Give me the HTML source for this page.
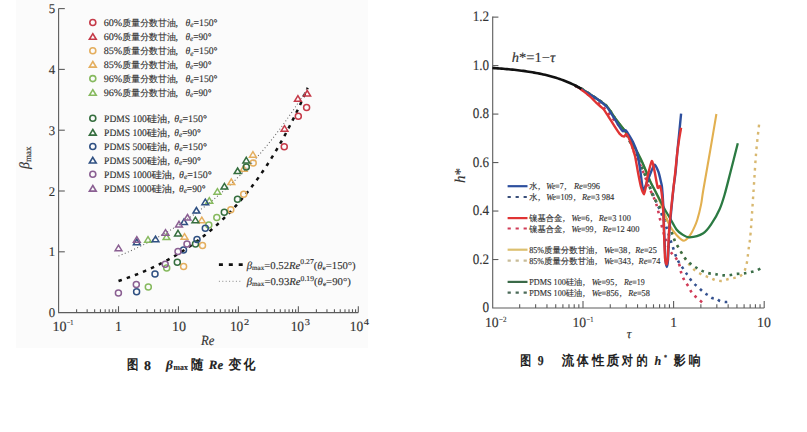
<!DOCTYPE html><html><head><meta charset="utf-8"><style>html,body{margin:0;padding:0;background:#fff;width:807px;height:432px;overflow:hidden}svg{display:block} text{stroke:#333;stroke-width:0.15px}</style></head><body><svg width="807" height="432" viewBox="0 0 807 432" style="text-rendering:geometricPrecision">
<rect x="0" y="0" width="807" height="432" fill="#ffffff"/>
<rect x="16" y="0" width="352" height="348" fill="#fbfbfb"/>
<g stroke="#5c5c5c" stroke-width="1.1" fill="none">
<path d="M58.6 8.5 V312.6 H358.3"/>
<path d="M58.6 251.80 H64.8"/>
<path d="M58.6 191.00 H64.8"/>
<path d="M58.6 130.20 H64.8"/>
<path d="M58.6 69.40 H64.8"/>
<path d="M58.6 8.60 H64.8"/>
<path d="M76.60 312.6 V309.2"/>
<path d="M87.15 312.6 V309.2"/>
<path d="M94.64 312.6 V309.2"/>
<path d="M100.45 312.6 V309.2"/>
<path d="M105.20 312.6 V309.2"/>
<path d="M109.21 312.6 V309.2"/>
<path d="M112.69 312.6 V309.2"/>
<path d="M115.76 312.6 V309.2"/>
<path d="M136.55 312.6 V309.2"/>
<path d="M147.10 312.6 V309.2"/>
<path d="M154.59 312.6 V309.2"/>
<path d="M160.40 312.6 V309.2"/>
<path d="M165.15 312.6 V309.2"/>
<path d="M169.16 312.6 V309.2"/>
<path d="M172.64 312.6 V309.2"/>
<path d="M175.71 312.6 V309.2"/>
<path d="M196.50 312.6 V309.2"/>
<path d="M207.05 312.6 V309.2"/>
<path d="M214.54 312.6 V309.2"/>
<path d="M220.35 312.6 V309.2"/>
<path d="M225.10 312.6 V309.2"/>
<path d="M229.11 312.6 V309.2"/>
<path d="M232.59 312.6 V309.2"/>
<path d="M235.66 312.6 V309.2"/>
<path d="M256.45 312.6 V309.2"/>
<path d="M267.00 312.6 V309.2"/>
<path d="M274.49 312.6 V309.2"/>
<path d="M280.30 312.6 V309.2"/>
<path d="M285.05 312.6 V309.2"/>
<path d="M289.06 312.6 V309.2"/>
<path d="M292.54 312.6 V309.2"/>
<path d="M295.61 312.6 V309.2"/>
<path d="M316.40 312.6 V309.2"/>
<path d="M326.95 312.6 V309.2"/>
<path d="M334.44 312.6 V309.2"/>
<path d="M340.25 312.6 V309.2"/>
<path d="M345.00 312.6 V309.2"/>
<path d="M349.01 312.6 V309.2"/>
<path d="M352.49 312.6 V309.2"/>
<path d="M355.56 312.6 V309.2"/>
<path d="M118.50 312.6 V306.2"/>
<path d="M178.45 312.6 V306.2"/>
<path d="M238.40 312.6 V306.2"/>
<path d="M298.35 312.6 V306.2"/>
<path d="M358.30 312.6 V306.2"/>
</g>
<text x="48.80" y="317.20" font-family="Liberation Serif" font-size="13.3" fill="#333333" textLength="6.40" lengthAdjust="spacingAndGlyphs" >0</text>
<text x="48.80" y="256.40" font-family="Liberation Serif" font-size="13.3" fill="#333333" textLength="6.40" lengthAdjust="spacingAndGlyphs" >1</text>
<text x="48.80" y="195.60" font-family="Liberation Serif" font-size="13.3" fill="#333333" textLength="6.40" lengthAdjust="spacingAndGlyphs" >2</text>
<text x="48.80" y="134.80" font-family="Liberation Serif" font-size="13.3" fill="#333333" textLength="6.40" lengthAdjust="spacingAndGlyphs" >3</text>
<text x="48.80" y="74.00" font-family="Liberation Serif" font-size="13.3" fill="#333333" textLength="6.40" lengthAdjust="spacingAndGlyphs" >4</text>
<text x="48.80" y="13.20" font-family="Liberation Serif" font-size="13.3" fill="#333333" textLength="6.40" lengthAdjust="spacingAndGlyphs" >5</text>
<text x="52.40" y="330.90" font-family="Liberation Serif" font-size="14" fill="#333333" textLength="14.10" lengthAdjust="spacingAndGlyphs" >10</text>
<text x="66.80" y="325.30" font-family="Liberation Serif" font-size="7.5" fill="#333333" textLength="6.70" lengthAdjust="spacingAndGlyphs" >−1</text>
<text x="114.90" y="330.90" font-family="Liberation Serif" font-size="14" fill="#333333" textLength="6.90" lengthAdjust="spacingAndGlyphs" >1</text>
<text x="171.90" y="330.90" font-family="Liberation Serif" font-size="14" fill="#333333" textLength="14.10" lengthAdjust="spacingAndGlyphs" >10</text>
<text x="229.90" y="330.90" font-family="Liberation Serif" font-size="14" fill="#333333" textLength="13.40" lengthAdjust="spacingAndGlyphs" >10</text>
<text x="244.00" y="324.80" font-family="Liberation Serif" font-size="9" fill="#333333" textLength="5.20" lengthAdjust="spacingAndGlyphs" >2</text>
<text x="290.65" y="330.90" font-family="Liberation Serif" font-size="14" fill="#333333" textLength="13.40" lengthAdjust="spacingAndGlyphs" >10</text>
<text x="304.75" y="324.80" font-family="Liberation Serif" font-size="9" fill="#333333" textLength="5.20" lengthAdjust="spacingAndGlyphs" >3</text>
<text x="349.70" y="330.90" font-family="Liberation Serif" font-size="14" fill="#333333" textLength="13.40" lengthAdjust="spacingAndGlyphs" >10</text>
<text x="363.80" y="324.80" font-family="Liberation Serif" font-size="9" fill="#333333" textLength="5.20" lengthAdjust="spacingAndGlyphs" >4</text>
<text x="200.90" y="344.60" font-family="Liberation Serif" font-size="14" fill="#333333" textLength="13.40" lengthAdjust="spacingAndGlyphs" font-style="italic">Re</text>
<g transform="translate(28.5,169) rotate(-90)"><text x="0" y="0" font-family="Liberation Serif" font-size="14" fill="#333333"><tspan font-style="italic">β</tspan><tspan font-size="9" dy="2.5">max</tspan></text></g>
<path d="M118.50 280.98 L120.89 280.19 L123.29 279.37 L125.68 278.54 L128.08 277.68 L130.47 276.80 L132.87 275.90 L135.26 274.98 L137.66 274.04 L140.05 273.07 L142.44 272.07 L144.84 271.05 L147.23 270.01 L149.63 268.94 L152.02 267.84 L154.42 266.72 L156.81 265.56 L159.21 264.38 L161.60 263.17 L163.99 261.92 L166.39 260.65 L168.78 259.34 L171.18 258.00 L173.57 256.63 L175.97 255.22 L178.36 253.78 L180.76 252.30 L183.15 250.79 L185.54 249.23 L187.94 247.64 L190.33 246.01 L192.73 244.33 L195.12 242.62 L197.52 240.86 L199.91 239.05 L202.31 237.20 L204.70 235.31 L207.10 233.36 L209.49 231.37 L211.88 229.33 L214.28 227.24 L216.67 225.09 L219.07 222.89 L221.46 220.64 L223.86 218.32 L226.25 215.95 L228.65 213.52 L231.04 211.03 L233.43 208.48 L235.83 205.86 L238.22 203.18 L240.62 200.43 L243.01 197.61 L245.41 194.71 L247.80 191.75 L250.20 188.71 L252.59 185.60 L254.98 182.40 L257.38 179.13 L259.77 175.77 L262.17 172.33 L264.56 168.81 L266.96 165.19 L269.35 161.49 L271.75 157.69 L274.14 153.79 L276.53 149.80 L278.93 145.71 L281.32 141.51 L283.72 137.21 L286.11 132.80 L288.51 128.28 L290.90 123.64 L293.30 118.89 L295.69 114.02 L298.08 109.03 L300.48 103.91 L302.87 98.67 L305.27 93.29 L307.66 87.77" stroke="#111" stroke-width="2.5" fill="none" stroke-dasharray="3.5 5.2"/>
<path d="M118.50 256.06 L120.89 255.06 L123.27 254.05 L125.66 253.02 L128.05 251.97 L130.44 250.91 L132.82 249.83 L135.21 248.72 L137.60 247.60 L139.99 246.46 L142.37 245.29 L144.76 244.11 L147.15 242.91 L149.54 241.68 L151.92 240.44 L154.31 239.17 L156.70 237.88 L159.09 236.56 L161.47 235.23 L163.86 233.87 L166.25 232.48 L168.64 231.08 L171.02 229.64 L173.41 228.19 L175.80 226.70 L178.19 225.19 L180.57 223.66 L182.96 222.09 L185.35 220.50 L187.74 218.88 L190.12 217.24 L192.51 215.56 L194.90 213.85 L197.29 212.12 L199.67 210.35 L202.06 208.56 L204.45 206.73 L206.84 204.87 L209.22 202.97 L211.61 201.05 L214.00 199.09 L216.39 197.09 L218.77 195.06 L221.16 192.99 L223.55 190.89 L225.94 188.75 L228.32 186.58 L230.71 184.36 L233.10 182.11 L235.49 179.81 L237.87 177.48 L240.26 175.11 L242.65 172.69 L245.04 170.23 L247.42 167.73 L249.81 165.18 L252.20 162.59 L254.59 159.95 L256.97 157.27 L259.36 154.54 L261.75 151.76 L264.14 148.94 L266.52 146.06 L268.91 143.13 L271.30 140.15 L273.69 137.12 L276.07 134.04 L278.46 130.90 L280.85 127.71 L283.24 124.46 L285.62 121.15 L288.01 117.79 L290.40 114.36 L292.79 110.88 L295.17 107.33 L297.56 103.73 L299.95 100.05 L302.34 96.32 L304.72 92.52 L307.11 88.65" stroke="#666" stroke-width="1.1" fill="none" stroke-dasharray="1 2.4"/>
<circle cx="284.25" cy="146.75" r="3.0" fill="none" stroke="#c53a48" stroke-width="1.5"/>
<circle cx="298.3" cy="116.2" r="3.0" fill="none" stroke="#c53a48" stroke-width="1.5"/>
<circle cx="306.6" cy="107.5" r="3.0" fill="none" stroke="#c53a48" stroke-width="1.5"/>
<path d="M284.50 125.60 L287.90 131.20 L281.10 131.20 Z" fill="none" stroke="#c53a48" stroke-width="1.5" stroke-linejoin="miter"/>
<path d="M297.90 95.70 L301.30 101.30 L294.50 101.30 Z" fill="none" stroke="#c53a48" stroke-width="1.5" stroke-linejoin="miter"/>
<path d="M307.20 90.50 L310.60 96.10 L303.80 96.10 Z" fill="none" stroke="#c53a48" stroke-width="1.5" stroke-linejoin="miter"/>
<circle cx="183.6" cy="266.4" r="3.0" fill="none" stroke="#e4ae5e" stroke-width="1.5"/>
<circle cx="202.5" cy="245.5" r="3.0" fill="none" stroke="#e4ae5e" stroke-width="1.5"/>
<circle cx="230.8" cy="209.8" r="3.0" fill="none" stroke="#e4ae5e" stroke-width="1.5"/>
<circle cx="243.7" cy="194.2" r="3.0" fill="none" stroke="#e4ae5e" stroke-width="1.5"/>
<circle cx="253.2" cy="163" r="3.0" fill="none" stroke="#e4ae5e" stroke-width="1.5"/>
<path d="M184.50 233.60 L187.90 239.20 L181.10 239.20 Z" fill="none" stroke="#e4ae5e" stroke-width="1.5" stroke-linejoin="miter"/>
<path d="M201.80 217.10 L205.20 222.70 L198.40 222.70 Z" fill="none" stroke="#e4ae5e" stroke-width="1.5" stroke-linejoin="miter"/>
<path d="M231.30 178.90 L234.70 184.50 L227.90 184.50 Z" fill="none" stroke="#e4ae5e" stroke-width="1.5" stroke-linejoin="miter"/>
<path d="M243.70 165.60 L247.10 171.20 L240.30 171.20 Z" fill="none" stroke="#e4ae5e" stroke-width="1.5" stroke-linejoin="miter"/>
<path d="M252.90 151.60 L256.30 157.20 L249.50 157.20 Z" fill="none" stroke="#e4ae5e" stroke-width="1.5" stroke-linejoin="miter"/>
<circle cx="148.3" cy="287.0" r="3.0" fill="none" stroke="#86b95e" stroke-width="1.5"/>
<circle cx="166.7" cy="267.9" r="3.0" fill="none" stroke="#86b95e" stroke-width="1.5"/>
<circle cx="208.8" cy="224.9" r="3.0" fill="none" stroke="#86b95e" stroke-width="1.5"/>
<circle cx="216.8" cy="217.4" r="3.0" fill="none" stroke="#86b95e" stroke-width="1.5"/>
<path d="M148.00 236.60 L151.40 242.20 L144.60 242.20 Z" fill="none" stroke="#86b95e" stroke-width="1.5" stroke-linejoin="miter"/>
<path d="M166.50 233.90 L169.90 239.50 L163.10 239.50 Z" fill="none" stroke="#86b95e" stroke-width="1.5" stroke-linejoin="miter"/>
<path d="M209.30 197.60 L212.70 203.20 L205.90 203.20 Z" fill="none" stroke="#86b95e" stroke-width="1.5" stroke-linejoin="miter"/>
<path d="M217.40 188.60 L220.80 194.20 L214.00 194.20 Z" fill="none" stroke="#86b95e" stroke-width="1.5" stroke-linejoin="miter"/>
<circle cx="177.3" cy="262.2" r="3.0" fill="none" stroke="#356e3e" stroke-width="1.5"/>
<circle cx="195.5" cy="244" r="3.0" fill="none" stroke="#356e3e" stroke-width="1.5"/>
<circle cx="224.3" cy="212.3" r="3.0" fill="none" stroke="#356e3e" stroke-width="1.5"/>
<circle cx="237.5" cy="199.2" r="3.0" fill="none" stroke="#356e3e" stroke-width="1.5"/>
<circle cx="246.3" cy="166.9" r="3.0" fill="none" stroke="#356e3e" stroke-width="1.5"/>
<path d="M178.00 230.30 L181.40 235.90 L174.60 235.90 Z" fill="none" stroke="#356e3e" stroke-width="1.5" stroke-linejoin="miter"/>
<path d="M195.40 217.10 L198.80 222.70 L192.00 222.70 Z" fill="none" stroke="#356e3e" stroke-width="1.5" stroke-linejoin="miter"/>
<path d="M224.40 183.40 L227.80 189.00 L221.00 189.00 Z" fill="none" stroke="#356e3e" stroke-width="1.5" stroke-linejoin="miter"/>
<path d="M237.60 168.00 L241.00 173.60 L234.20 173.60 Z" fill="none" stroke="#356e3e" stroke-width="1.5" stroke-linejoin="miter"/>
<path d="M246.30 157.30 L249.70 162.90 L242.90 162.90 Z" fill="none" stroke="#356e3e" stroke-width="1.5" stroke-linejoin="miter"/>
<circle cx="136.6" cy="291.8" r="3.0" fill="none" stroke="#2f5082" stroke-width="1.5"/>
<circle cx="155.0" cy="274.1" r="3.0" fill="none" stroke="#2f5082" stroke-width="1.5"/>
<circle cx="183.5" cy="250" r="3.0" fill="none" stroke="#2f5082" stroke-width="1.5"/>
<circle cx="197" cy="239.5" r="3.0" fill="none" stroke="#2f5082" stroke-width="1.5"/>
<circle cx="205.3" cy="228.3" r="3.0" fill="none" stroke="#2f5082" stroke-width="1.5"/>
<path d="M136.80 239.10 L140.20 244.70 L133.40 244.70 Z" fill="none" stroke="#2f5082" stroke-width="1.5" stroke-linejoin="miter"/>
<path d="M155.50 236.10 L158.90 241.70 L152.10 241.70 Z" fill="none" stroke="#2f5082" stroke-width="1.5" stroke-linejoin="miter"/>
<path d="M184.00 218.90 L187.40 224.50 L180.60 224.50 Z" fill="none" stroke="#2f5082" stroke-width="1.5" stroke-linejoin="miter"/>
<path d="M196.40 207.50 L199.80 213.10 L193.00 213.10 Z" fill="none" stroke="#2f5082" stroke-width="1.5" stroke-linejoin="miter"/>
<path d="M205.30 199.10 L208.70 204.70 L201.90 204.70 Z" fill="none" stroke="#2f5082" stroke-width="1.5" stroke-linejoin="miter"/>
<circle cx="118.4" cy="293" r="3.0" fill="none" stroke="#8a5f92" stroke-width="1.5"/>
<circle cx="136.3" cy="284.4" r="3.0" fill="none" stroke="#8a5f92" stroke-width="1.5"/>
<circle cx="165.2" cy="264.3" r="3.0" fill="none" stroke="#8a5f92" stroke-width="1.5"/>
<circle cx="178" cy="251.5" r="3.0" fill="none" stroke="#8a5f92" stroke-width="1.5"/>
<circle cx="187" cy="244" r="3.0" fill="none" stroke="#8a5f92" stroke-width="1.5"/>
<path d="M118.50 245.10 L121.90 250.70 L115.10 250.70 Z" fill="none" stroke="#8a5f92" stroke-width="1.5" stroke-linejoin="miter"/>
<path d="M136.80 236.60 L140.20 242.20 L133.40 242.20 Z" fill="none" stroke="#8a5f92" stroke-width="1.5" stroke-linejoin="miter"/>
<path d="M165.50 229.60 L168.90 235.20 L162.10 235.20 Z" fill="none" stroke="#8a5f92" stroke-width="1.5" stroke-linejoin="miter"/>
<path d="M179.00 221.30 L182.40 226.90 L175.60 226.90 Z" fill="none" stroke="#8a5f92" stroke-width="1.5" stroke-linejoin="miter"/>
<path d="M187.50 214.50 L190.90 220.10 L184.10 220.10 Z" fill="none" stroke="#8a5f92" stroke-width="1.5" stroke-linejoin="miter"/>
<circle cx="92.8" cy="22.5" r="3.0" fill="none" stroke="#c53a48" stroke-width="1.6"/>
<text x="103.70" y="26.10" font-family="Liberation Serif" font-size="10" fill="#333333" textLength="18.60" lengthAdjust="spacingAndGlyphs" >60%</text>
<text x="122.30" y="26.10" font-family="Liberation Serif" font-size="9" fill="#333333" textLength="53.50" lengthAdjust="spacingAndGlyphs" >质量分数甘油</text>
<text x="175.60" y="26.10" font-family="Liberation Serif" font-size="10" fill="#333333" >,</text>
<text x="185.50" y="26.10" font-family="Liberation Serif" font-size="10" fill="#333333" textLength="32.00" lengthAdjust="spacingAndGlyphs"><tspan font-style="italic">θ</tspan><tspan font-size="7.5" font-style="italic" dy="1.2">e</tspan><tspan dy="-1.2">=150°</tspan></text>
<path d="M92.80 33.70 L96.20 39.30 L89.40 39.30 Z" fill="none" stroke="#c53a48" stroke-width="1.6" stroke-linejoin="miter"/>
<text x="103.70" y="40.20" font-family="Liberation Serif" font-size="10" fill="#333333" textLength="18.60" lengthAdjust="spacingAndGlyphs" >60%</text>
<text x="122.30" y="40.20" font-family="Liberation Serif" font-size="9" fill="#333333" textLength="53.50" lengthAdjust="spacingAndGlyphs" >质量分数甘油</text>
<text x="175.60" y="40.20" font-family="Liberation Serif" font-size="10" fill="#333333" >,</text>
<text x="185.50" y="40.20" font-family="Liberation Serif" font-size="10" fill="#333333" textLength="26.00" lengthAdjust="spacingAndGlyphs"><tspan font-style="italic">θ</tspan><tspan font-size="7.5" font-style="italic" dy="1.2">e</tspan><tspan dy="-1.2">=90°</tspan></text>
<circle cx="92.8" cy="50.7" r="3.0" fill="none" stroke="#e4ae5e" stroke-width="1.6"/>
<text x="103.70" y="54.30" font-family="Liberation Serif" font-size="10" fill="#333333" textLength="18.60" lengthAdjust="spacingAndGlyphs" >85%</text>
<text x="122.30" y="54.30" font-family="Liberation Serif" font-size="9" fill="#333333" textLength="53.50" lengthAdjust="spacingAndGlyphs" >质量分数甘油</text>
<text x="175.60" y="54.30" font-family="Liberation Serif" font-size="10" fill="#333333" >,</text>
<text x="185.50" y="54.30" font-family="Liberation Serif" font-size="10" fill="#333333" textLength="32.00" lengthAdjust="spacingAndGlyphs"><tspan font-style="italic">θ</tspan><tspan font-size="7.5" font-style="italic" dy="1.2">e</tspan><tspan dy="-1.2">=150°</tspan></text>
<path d="M92.80 61.50 L96.20 67.10 L89.40 67.10 Z" fill="none" stroke="#e4ae5e" stroke-width="1.6" stroke-linejoin="miter"/>
<text x="103.70" y="68.00" font-family="Liberation Serif" font-size="10" fill="#333333" textLength="18.60" lengthAdjust="spacingAndGlyphs" >85%</text>
<text x="122.30" y="68.00" font-family="Liberation Serif" font-size="9" fill="#333333" textLength="53.50" lengthAdjust="spacingAndGlyphs" >质量分数甘油</text>
<text x="175.60" y="68.00" font-family="Liberation Serif" font-size="10" fill="#333333" >,</text>
<text x="185.50" y="68.00" font-family="Liberation Serif" font-size="10" fill="#333333" textLength="26.00" lengthAdjust="spacingAndGlyphs"><tspan font-style="italic">θ</tspan><tspan font-size="7.5" font-style="italic" dy="1.2">e</tspan><tspan dy="-1.2">=90°</tspan></text>
<circle cx="92.8" cy="78.6" r="3.0" fill="none" stroke="#86b95e" stroke-width="1.6"/>
<text x="103.70" y="82.20" font-family="Liberation Serif" font-size="10" fill="#333333" textLength="18.60" lengthAdjust="spacingAndGlyphs" >96%</text>
<text x="122.30" y="82.20" font-family="Liberation Serif" font-size="9" fill="#333333" textLength="53.50" lengthAdjust="spacingAndGlyphs" >质量分数甘油</text>
<text x="175.60" y="82.20" font-family="Liberation Serif" font-size="10" fill="#333333" >,</text>
<text x="185.50" y="82.20" font-family="Liberation Serif" font-size="10" fill="#333333" textLength="32.00" lengthAdjust="spacingAndGlyphs"><tspan font-style="italic">θ</tspan><tspan font-size="7.5" font-style="italic" dy="1.2">e</tspan><tspan dy="-1.2">=150°</tspan></text>
<path d="M92.80 89.70 L96.20 95.30 L89.40 95.30 Z" fill="none" stroke="#86b95e" stroke-width="1.6" stroke-linejoin="miter"/>
<text x="103.70" y="96.20" font-family="Liberation Serif" font-size="10" fill="#333333" textLength="18.60" lengthAdjust="spacingAndGlyphs" >96%</text>
<text x="122.30" y="96.20" font-family="Liberation Serif" font-size="9" fill="#333333" textLength="53.50" lengthAdjust="spacingAndGlyphs" >质量分数甘油</text>
<text x="175.60" y="96.20" font-family="Liberation Serif" font-size="10" fill="#333333" >,</text>
<text x="185.50" y="96.20" font-family="Liberation Serif" font-size="10" fill="#333333" textLength="26.00" lengthAdjust="spacingAndGlyphs"><tspan font-style="italic">θ</tspan><tspan font-size="7.5" font-style="italic" dy="1.2">e</tspan><tspan dy="-1.2">=90°</tspan></text>
<circle cx="92.8" cy="118.3" r="3.0" fill="none" stroke="#356e3e" stroke-width="1.6"/>
<text x="104.10" y="121.90" font-family="Liberation Serif" font-size="10" fill="#333333" textLength="42.70" lengthAdjust="spacingAndGlyphs" >PDMS 100</text>
<text x="146.80" y="121.90" font-family="Liberation Serif" font-size="9.5" fill="#333333" textLength="20.40" lengthAdjust="spacingAndGlyphs" >硅油</text>
<text x="167.60" y="121.90" font-family="Liberation Serif" font-size="10" fill="#333333" >,</text>
<text x="174.30" y="121.90" font-family="Liberation Serif" font-size="10" fill="#333333" textLength="32.60" lengthAdjust="spacingAndGlyphs"><tspan font-style="italic">θ</tspan><tspan font-size="7.5" font-style="italic" dy="1.2">e</tspan><tspan dy="-1.2">=150°</tspan></text>
<path d="M92.80 129.50 L96.20 135.10 L89.40 135.10 Z" fill="none" stroke="#356e3e" stroke-width="1.6" stroke-linejoin="miter"/>
<text x="104.10" y="136.00" font-family="Liberation Serif" font-size="10" fill="#333333" textLength="42.70" lengthAdjust="spacingAndGlyphs" >PDMS 100</text>
<text x="146.80" y="136.00" font-family="Liberation Serif" font-size="9.5" fill="#333333" textLength="20.40" lengthAdjust="spacingAndGlyphs" >硅油</text>
<text x="167.60" y="136.00" font-family="Liberation Serif" font-size="10" fill="#333333" >,</text>
<text x="174.30" y="136.00" font-family="Liberation Serif" font-size="10" fill="#333333" textLength="26.50" lengthAdjust="spacingAndGlyphs"><tspan font-style="italic">θ</tspan><tspan font-size="7.5" font-style="italic" dy="1.2">e</tspan><tspan dy="-1.2">=90°</tspan></text>
<circle cx="92.8" cy="146.5" r="3.0" fill="none" stroke="#2f5082" stroke-width="1.6"/>
<text x="104.10" y="150.10" font-family="Liberation Serif" font-size="10" fill="#333333" textLength="42.70" lengthAdjust="spacingAndGlyphs" >PDMS 500</text>
<text x="146.80" y="150.10" font-family="Liberation Serif" font-size="9.5" fill="#333333" textLength="20.40" lengthAdjust="spacingAndGlyphs" >硅油</text>
<text x="167.60" y="150.10" font-family="Liberation Serif" font-size="10" fill="#333333" >,</text>
<text x="174.30" y="150.10" font-family="Liberation Serif" font-size="10" fill="#333333" textLength="32.60" lengthAdjust="spacingAndGlyphs"><tspan font-style="italic">θ</tspan><tspan font-size="7.5" font-style="italic" dy="1.2">e</tspan><tspan dy="-1.2">=150°</tspan></text>
<path d="M92.80 157.40 L96.20 163.00 L89.40 163.00 Z" fill="none" stroke="#2f5082" stroke-width="1.6" stroke-linejoin="miter"/>
<text x="104.10" y="163.90" font-family="Liberation Serif" font-size="10" fill="#333333" textLength="42.70" lengthAdjust="spacingAndGlyphs" >PDMS 500</text>
<text x="146.80" y="163.90" font-family="Liberation Serif" font-size="9.5" fill="#333333" textLength="20.40" lengthAdjust="spacingAndGlyphs" >硅油</text>
<text x="167.60" y="163.90" font-family="Liberation Serif" font-size="10" fill="#333333" >,</text>
<text x="174.30" y="163.90" font-family="Liberation Serif" font-size="10" fill="#333333" textLength="26.50" lengthAdjust="spacingAndGlyphs"><tspan font-style="italic">θ</tspan><tspan font-size="7.5" font-style="italic" dy="1.2">e</tspan><tspan dy="-1.2">=90°</tspan></text>
<circle cx="92.8" cy="174.3" r="3.0" fill="none" stroke="#8a5f92" stroke-width="1.6"/>
<text x="104.10" y="177.90" font-family="Liberation Serif" font-size="10" fill="#333333" textLength="47.40" lengthAdjust="spacingAndGlyphs" >PDMS 1000</text>
<text x="151.50" y="177.90" font-family="Liberation Serif" font-size="9.5" fill="#333333" textLength="20.40" lengthAdjust="spacingAndGlyphs" >硅油</text>
<text x="172.30" y="177.90" font-family="Liberation Serif" font-size="10" fill="#333333" >,</text>
<text x="179.00" y="177.90" font-family="Liberation Serif" font-size="10" fill="#333333" textLength="32.60" lengthAdjust="spacingAndGlyphs"><tspan font-style="italic">θ</tspan><tspan font-size="7.5" font-style="italic" dy="1.2">e</tspan><tspan dy="-1.2">=150°</tspan></text>
<path d="M92.80 185.50 L96.20 191.10 L89.40 191.10 Z" fill="none" stroke="#8a5f92" stroke-width="1.6" stroke-linejoin="miter"/>
<text x="104.10" y="192.00" font-family="Liberation Serif" font-size="10" fill="#333333" textLength="47.40" lengthAdjust="spacingAndGlyphs" >PDMS 1000</text>
<text x="151.50" y="192.00" font-family="Liberation Serif" font-size="9.5" fill="#333333" textLength="20.40" lengthAdjust="spacingAndGlyphs" >硅油</text>
<text x="172.30" y="192.00" font-family="Liberation Serif" font-size="10" fill="#333333" >,</text>
<text x="179.00" y="192.00" font-family="Liberation Serif" font-size="10" fill="#333333" textLength="26.50" lengthAdjust="spacingAndGlyphs"><tspan font-style="italic">θ</tspan><tspan font-size="7.5" font-style="italic" dy="1.2">e</tspan><tspan dy="-1.2">=90°</tspan></text>
<path d="M218.9 264.6 H242.7" stroke="#111" stroke-width="2.6" stroke-dasharray="4 5.9" fill="none"/>
<path d="M218.9 281.3 H242.7" stroke="#888" stroke-width="1" stroke-dasharray="1 2.4" fill="none"/>
<text x="246.7" y="268.5" font-family="Liberation Serif" font-size="10.5" fill="#333333" textLength="109.00" lengthAdjust="spacingAndGlyphs"><tspan font-style="italic">β</tspan><tspan font-size="7" dy="1.2">max</tspan><tspan dy="-1.2">=0.52</tspan><tspan font-style="italic">Re</tspan><tspan font-size="7.5" dy="-4.5">0.27</tspan><tspan dy="4.5">(</tspan><tspan font-style="italic">θ</tspan><tspan font-size="7" dy="1.2">e</tspan><tspan dy="-1.2">=150°)</tspan></text>
<text x="246.7" y="285.2" font-family="Liberation Serif" font-size="10.5" fill="#333333" textLength="104.10" lengthAdjust="spacingAndGlyphs"><tspan font-style="italic">β</tspan><tspan font-size="7" dy="1.2">max</tspan><tspan dy="-1.2">=0.93</tspan><tspan font-style="italic">Re</tspan><tspan font-size="7.5" dy="-4.5">0.19</tspan><tspan dy="4.5">(</tspan><tspan font-style="italic">θ</tspan><tspan font-size="7" dy="1.2">e</tspan><tspan dy="-1.2">=90°)</tspan></text>
<text x="126.90" y="368.60" font-family="Liberation Serif" font-size="13.5" fill="#222" textLength="11.40" lengthAdjust="spacingAndGlyphs" font-weight="600" style="stroke-width:0">图</text>
<text x="144.00" y="369.60" font-family="Liberation Serif" font-size="13.5" fill="#222" textLength="7.00" lengthAdjust="spacingAndGlyphs" font-weight="bold">8</text>
<text x="166.00" y="369.30" font-family="Liberation Serif" font-size="12.5" fill="#222" textLength="6.80" lengthAdjust="spacingAndGlyphs" font-weight="bold" font-style="italic">β</text>
<text x="173.50" y="369.60" font-family="Liberation Serif" font-size="8.5" fill="#222" textLength="14.30" lengthAdjust="spacingAndGlyphs" font-weight="bold">max</text>
<text x="190.90" y="368.60" font-family="Liberation Serif" font-size="13.5" fill="#222" textLength="12.40" lengthAdjust="spacingAndGlyphs" font-weight="600" style="stroke-width:0">随</text>
<text x="208.80" y="369.30" font-family="Liberation Serif" font-size="12.5" fill="#222" textLength="14.40" lengthAdjust="spacingAndGlyphs" font-weight="bold" font-style="italic">Re</text>
<text x="228.60" y="368.60" font-family="Liberation Serif" font-size="13.5" fill="#222" textLength="12.90" lengthAdjust="spacingAndGlyphs" font-weight="600" style="stroke-width:0">变</text>
<text x="243.50" y="368.60" font-family="Liberation Serif" font-size="13.5" fill="#222" textLength="11.90" lengthAdjust="spacingAndGlyphs" font-weight="600" style="stroke-width:0">化</text>
<g stroke="#5c5c5c" stroke-width="1.1" fill="none">
<path d="M492.7 16.6 V308.0 H764.2"/>
<path d="M492.7 259.52 H498.4"/>
<path d="M492.7 211.04 H498.4"/>
<path d="M492.7 162.56 H498.4"/>
<path d="M492.7 114.08 H498.4"/>
<path d="M492.7 65.60 H498.4"/>
<path d="M492.7 17.12 H498.4"/>
<path d="M519.67 308 V304.3"/>
<path d="M535.63 308 V304.3"/>
<path d="M546.95 308 V304.3"/>
<path d="M555.73 308 V304.3"/>
<path d="M562.90 308 V304.3"/>
<path d="M568.97 308 V304.3"/>
<path d="M574.22 308 V304.3"/>
<path d="M578.85 308 V304.3"/>
<path d="M610.27 308 V304.3"/>
<path d="M626.23 308 V304.3"/>
<path d="M637.55 308 V304.3"/>
<path d="M646.33 308 V304.3"/>
<path d="M653.50 308 V304.3"/>
<path d="M659.57 308 V304.3"/>
<path d="M664.82 308 V304.3"/>
<path d="M669.45 308 V304.3"/>
<path d="M700.87 308 V304.3"/>
<path d="M716.83 308 V304.3"/>
<path d="M728.15 308 V304.3"/>
<path d="M736.93 308 V304.3"/>
<path d="M744.10 308 V304.3"/>
<path d="M750.17 308 V304.3"/>
<path d="M755.42 308 V304.3"/>
<path d="M760.05 308 V304.3"/>
<path d="M583.00 308 V301"/>
<path d="M673.60 308 V301"/>
<path d="M764.20 308 V301"/>
</g>
<text x="482.50" y="312.00" font-family="Liberation Serif" font-size="14.5" fill="#333333" textLength="6.60" lengthAdjust="spacingAndGlyphs" >0</text>
<text x="472.70" y="263.52" font-family="Liberation Serif" font-size="14.5" fill="#333333" textLength="16.40" lengthAdjust="spacingAndGlyphs" >0.2</text>
<text x="472.70" y="215.04" font-family="Liberation Serif" font-size="14.5" fill="#333333" textLength="16.40" lengthAdjust="spacingAndGlyphs" >0.4</text>
<text x="472.70" y="166.56" font-family="Liberation Serif" font-size="14.5" fill="#333333" textLength="16.40" lengthAdjust="spacingAndGlyphs" >0.6</text>
<text x="472.70" y="118.08" font-family="Liberation Serif" font-size="14.5" fill="#333333" textLength="16.40" lengthAdjust="spacingAndGlyphs" >0.8</text>
<text x="472.70" y="69.60" font-family="Liberation Serif" font-size="14.5" fill="#333333" textLength="16.40" lengthAdjust="spacingAndGlyphs" >1.0</text>
<text x="472.70" y="21.12" font-family="Liberation Serif" font-size="14.5" fill="#333333" textLength="16.40" lengthAdjust="spacingAndGlyphs" >1.2</text>
<text x="484.90" y="327.20" font-family="Liberation Serif" font-size="14" fill="#333333" textLength="13.70" lengthAdjust="spacingAndGlyphs" >10</text>
<text x="499.00" y="321.60" font-family="Liberation Serif" font-size="8" fill="#333333" textLength="7.40" lengthAdjust="spacingAndGlyphs" >−2</text>
<text x="572.50" y="327.20" font-family="Liberation Serif" font-size="14" fill="#333333" textLength="13.70" lengthAdjust="spacingAndGlyphs" >10</text>
<text x="586.60" y="321.60" font-family="Liberation Serif" font-size="8" fill="#333333" textLength="6.90" lengthAdjust="spacingAndGlyphs" >−1</text>
<text x="670.20" y="327.20" font-family="Liberation Serif" font-size="14" fill="#333333" textLength="6.80" lengthAdjust="spacingAndGlyphs" >1</text>
<text x="757.00" y="327.20" font-family="Liberation Serif" font-size="14" fill="#333333" textLength="13.80" lengthAdjust="spacingAndGlyphs" >10</text>
<text x="626.80" y="337.50" font-family="Liberation Serif" font-size="13" fill="#333333" font-style="italic">τ</text>
<g transform="translate(465,183) rotate(-90)"><text x="0" y="0" font-family="Liberation Serif" font-size="15" fill="#333333"><tspan font-style="italic">h</tspan>*</text></g>
<text x="511.7" y="61.7" font-family="Liberation Serif" font-size="14" fill="#333333" textLength="43.5" lengthAdjust="spacingAndGlyphs"><tspan font-style="italic">h</tspan>*=1−<tspan font-style="italic">τ</tspan></text>
<path d="M575.00 85.60 C576.00 86.17 578.47 87.23 581.00 89.00 C583.53 90.77 587.63 94.12 590.20 96.20 C592.77 98.28 594.20 99.62 596.40 101.50 C598.60 103.38 601.30 105.42 603.40 107.50 C605.50 109.58 607.07 111.75 609.00 114.00 C610.93 116.25 612.33 117.83 615.00 121.00 C617.67 124.17 621.83 128.67 625.00 133.00 C628.17 137.33 632.83 144.58 634.00 147.00 C635.17 149.42 631.25 145.17 632.00 147.50 C632.75 149.83 636.50 156.58 638.50 161.00 C640.50 165.42 642.33 169.83 644.00 174.00 C645.67 178.17 646.92 182.17 648.50 186.00 C650.08 189.83 652.38 194.50 653.50 197.00 C654.62 199.50 654.50 199.00 655.20 201.00 C655.90 203.00 656.70 205.17 657.70 209.00 C658.70 212.83 659.90 219.00 661.20 224.00 C662.50 229.00 664.00 234.50 665.50 239.00 C667.00 243.50 668.47 247.83 670.20 251.00 C671.93 254.17 674.37 255.67 675.90 258.00 C677.43 260.33 678.48 262.43 679.40 265.00 C680.32 267.57 680.57 270.83 681.40 273.40 C682.23 275.97 683.25 278.25 684.40 280.40 C685.55 282.55 687.03 284.20 688.30 286.30 C689.57 288.40 690.55 291.05 692.00 293.00 C693.45 294.95 695.17 296.33 697.00 298.00 C698.83 299.67 701.50 301.92 703.00 303.00 C704.50 304.08 705.50 304.25 706.00 304.50" stroke="#d03c58" stroke-width="2.6" fill="none" stroke-linejoin="round" stroke-linecap="butt" stroke-dasharray="2.6 4.6"/>
<path d="M575.00 85.60 C576.00 86.08 577.43 86.35 581.00 88.50 C584.57 90.65 592.08 95.52 596.40 98.50 C600.72 101.48 603.80 103.07 606.90 106.40 C610.00 109.73 611.98 114.23 615.00 118.50 C618.02 122.77 622.08 127.25 625.00 132.00 C627.92 136.75 630.17 142.25 632.50 147.00 C634.83 151.75 637.00 156.08 639.00 160.50 C641.00 164.92 642.75 169.25 644.50 173.50 C646.25 177.75 647.68 181.58 649.50 186.00 C651.32 190.42 653.90 196.50 655.40 200.00 C656.90 203.50 657.53 204.83 658.50 207.00 C659.47 209.17 659.87 209.58 661.20 213.00 C662.53 216.42 664.78 222.50 666.50 227.50 C668.22 232.50 669.93 238.25 671.50 243.00 C673.07 247.75 674.58 252.67 675.90 256.00 C677.22 259.33 677.98 260.60 679.40 263.00 C680.82 265.40 682.92 268.17 684.40 270.40 C685.88 272.63 686.82 274.32 688.30 276.40 C689.78 278.48 691.55 281.00 693.30 282.90 C695.05 284.80 697.05 286.23 698.80 287.80 C700.55 289.37 702.18 291.02 703.80 292.30 C705.42 293.58 707.13 294.55 708.50 295.50 C709.87 296.45 710.67 297.50 712.00 298.00 C713.33 298.50 715.17 298.00 716.50 298.50 C717.83 299.00 718.50 300.42 720.00 301.00 C721.50 301.58 723.67 301.92 725.50 302.00 C727.33 302.08 730.08 301.58 731.00 301.50" stroke="#33508e" stroke-width="2.6" fill="none" stroke-linejoin="round" stroke-linecap="butt" stroke-dasharray="2.6 4.6"/>
<path d="M575.00 85.60 C576.00 86.08 577.43 86.35 581.00 88.50 C584.57 90.65 592.08 95.52 596.40 98.50 C600.72 101.48 603.80 103.07 606.90 106.40 C610.00 109.73 611.98 114.23 615.00 118.50 C618.02 122.77 622.08 127.25 625.00 132.00 C627.92 136.75 630.17 142.25 632.50 147.00 C634.83 151.75 637.00 156.08 639.00 160.50 C641.00 164.92 642.83 169.42 644.50 173.50 C646.17 177.58 647.50 181.08 649.00 185.00 C650.50 188.92 650.90 191.95 653.50 197.00 C656.10 202.05 661.52 209.28 664.60 215.30 C667.68 221.32 670.27 228.77 672.00 233.10 C673.73 237.43 673.88 238.82 675.00 241.30 C676.12 243.78 677.38 245.72 678.70 248.00 C680.02 250.28 681.52 252.75 682.90 255.00 C684.28 257.25 685.60 259.50 687.00 261.50 C688.40 263.50 689.58 265.25 691.30 267.00 C693.02 268.75 695.22 270.60 697.30 272.00 C699.38 273.40 701.65 274.42 703.80 275.40 C705.95 276.38 708.13 277.07 710.20 277.90 C712.27 278.73 714.12 279.90 716.20 280.40 C718.28 280.90 720.63 281.13 722.70 280.90 C724.77 280.67 726.47 279.53 728.60 279.00 C730.73 278.47 733.43 278.28 735.50 277.70 C737.57 277.12 739.42 276.83 741.00 275.50 C742.58 274.17 744.00 271.95 745.00 269.70 C746.00 267.45 746.42 265.28 747.00 262.00 C747.58 258.72 747.90 254.83 748.50 250.00 C749.10 245.17 749.75 243.00 750.60 233.00 C751.45 223.00 752.68 203.33 753.60 190.00 C754.52 176.67 755.17 164.10 756.10 153.00 C757.03 141.90 758.68 128.33 759.20 123.40" stroke="#d8b870" stroke-width="2.4" fill="none" stroke-linejoin="round" stroke-linecap="butt" stroke-dasharray="2.6 4.6"/>
<path d="M575.00 85.60 C576.00 86.08 577.43 86.35 581.00 88.50 C584.57 90.65 592.08 95.52 596.40 98.50 C600.72 101.48 603.80 103.07 606.90 106.40 C610.00 109.73 611.98 114.23 615.00 118.50 C618.02 122.77 622.08 127.25 625.00 132.00 C627.92 136.75 630.17 142.25 632.50 147.00 C634.83 151.75 637.00 156.08 639.00 160.50 C641.00 164.92 642.83 169.42 644.50 173.50 C646.17 177.58 647.50 181.08 649.00 185.00 C650.50 188.92 650.90 191.95 653.50 197.00 C656.10 202.05 661.52 209.28 664.60 215.30 C667.68 221.32 670.27 228.77 672.00 233.10 C673.73 237.43 673.88 238.82 675.00 241.30 C676.12 243.78 677.38 245.72 678.70 248.00 C680.02 250.28 681.47 252.83 682.90 255.00 C684.33 257.17 685.48 259.17 687.30 261.00 C689.12 262.83 691.63 264.50 693.80 266.00 C695.97 267.50 697.98 268.83 700.30 270.00 C702.62 271.17 705.33 272.33 707.70 273.00 C710.07 273.67 712.33 273.67 714.50 274.00 C716.67 274.33 718.45 274.77 720.70 275.00 C722.95 275.23 725.45 275.57 728.00 275.40 C730.55 275.23 733.50 274.32 736.00 274.00 C738.50 273.68 740.83 273.75 743.00 273.50 C745.17 273.25 746.83 272.97 749.00 272.50 C751.17 272.03 753.92 271.45 756.00 270.70 C758.08 269.95 760.58 268.45 761.50 268.00" stroke="#3b6e48" stroke-width="2.6" fill="none" stroke-linejoin="round" stroke-linecap="butt" stroke-dasharray="2.6 4.6"/>
<path d="M575.00 85.60 C576.00 86.08 577.43 86.35 581.00 88.50 C584.57 90.65 592.08 95.52 596.40 98.50 C600.72 101.48 603.80 103.15 606.90 106.40 C610.00 109.65 611.98 113.90 615.00 118.00 C618.02 122.10 621.83 126.33 625.00 131.00 C628.17 135.67 631.33 141.25 634.00 146.00 C636.67 150.75 638.90 155.08 641.00 159.50 C643.10 163.92 644.93 168.58 646.60 172.50 C648.27 176.42 649.65 180.08 651.00 183.00 C652.35 185.92 653.03 186.50 654.70 190.00 C656.37 193.50 658.62 198.30 661.00 204.00 C663.38 209.70 666.42 219.03 669.00 224.20 C671.58 229.37 674.00 232.25 676.50 235.00 C679.00 237.75 681.77 240.62 684.00 240.70 C686.23 240.78 688.23 237.62 689.90 235.50 C691.57 233.38 692.77 230.62 694.00 228.00 C695.23 225.38 696.13 223.65 697.30 219.80 C698.47 215.95 700.00 209.87 701.00 204.90 C702.00 199.93 701.75 199.15 703.30 190.00 C704.85 180.85 708.12 162.67 710.30 150.00 C712.48 137.33 715.38 120.00 716.40 114.00" stroke="#e2b050" stroke-width="2.1" fill="none" stroke-linejoin="round" stroke-linecap="butt"/>
<path d="M575.00 85.60 C576.00 86.08 577.43 86.35 581.00 88.50 C584.57 90.65 592.08 95.52 596.40 98.50 C600.72 101.48 603.80 103.15 606.90 106.40 C610.00 109.65 611.98 113.90 615.00 118.00 C618.02 122.10 621.83 126.33 625.00 131.00 C628.17 135.67 631.33 141.25 634.00 146.00 C636.67 150.75 638.90 155.08 641.00 159.50 C643.10 163.92 644.93 168.58 646.60 172.50 C648.27 176.42 649.65 180.08 651.00 183.00 C652.35 185.92 652.53 185.83 654.70 190.00 C656.87 194.17 661.37 203.17 664.00 208.00 C666.63 212.83 668.42 215.42 670.50 219.00 C672.58 222.58 674.58 226.97 676.50 229.50 C678.42 232.03 679.83 232.90 682.00 234.20 C684.17 235.50 685.95 237.47 689.50 237.30 C693.05 237.13 699.52 235.63 703.30 233.20 C707.08 230.77 709.48 226.68 712.20 222.70 C714.92 218.72 717.55 213.92 719.60 209.30 C721.65 204.68 722.68 201.22 724.50 195.00 C726.32 188.78 728.28 180.62 730.50 172.00 C732.72 163.38 736.58 148.08 737.80 143.30" stroke="#2b7a42" stroke-width="2.3" fill="none" stroke-linejoin="round" stroke-linecap="butt"/>
<path d="M575.00 85.60 C575.50 85.86 577.86 86.91 580.00 88.20 C582.14 89.49 593.71 96.62 596.40 98.50 C599.09 100.38 605.04 104.90 606.90 107.00 C608.76 109.10 613.44 117.10 615.00 119.50 C616.56 121.90 621.40 129.90 622.50 131.00 C623.60 132.10 624.95 129.40 626.00 130.50 C627.05 131.60 631.85 139.65 633.00 142.00 C634.15 144.35 636.75 151.00 637.50 154.00 C638.25 157.00 640.02 168.80 640.50 172.00 C640.98 175.20 642.00 184.10 642.30 186.00 C642.60 187.90 643.18 191.00 643.50 191.00 C643.82 191.00 644.95 187.40 645.50 186.00 C646.05 184.60 648.11 179.13 649.00 177.00 C649.89 174.87 653.45 165.20 654.40 164.70 C655.35 164.20 657.84 170.27 658.50 172.00 C659.16 173.73 660.65 180.50 661.00 182.00 C661.35 183.50 661.78 184.80 662.00 187.00 C662.22 189.20 662.98 199.50 663.20 204.00 C663.42 208.50 663.97 226.40 664.20 232.00 C664.43 237.60 665.23 256.50 665.50 260.00 C665.77 263.50 666.65 267.00 666.90 267.00 C667.15 267.00 667.76 263.50 668.00 260.00 C668.24 256.50 668.95 237.20 669.30 232.00 C669.65 226.80 671.08 212.40 671.50 208.00 C671.92 203.60 673.09 191.60 673.50 188.00 C673.91 184.40 675.20 175.80 675.60 172.00 C676.00 168.20 677.16 153.70 677.50 150.00 C677.84 146.30 678.64 138.64 679.00 135.00 C679.36 131.36 680.89 115.74 681.10 113.60" stroke="#2d4f9e" stroke-width="2.4" fill="none" stroke-linejoin="round" stroke-linecap="butt"/>
<path d="M575.00 85.60 C575.50 85.90 578.48 87.49 580.00 88.60 C581.52 89.71 588.56 95.27 590.20 96.70 C591.84 98.13 595.08 101.67 596.40 102.90 C597.72 104.13 602.17 107.59 603.40 109.00 C604.63 110.41 607.64 115.36 608.70 117.00 C609.76 118.64 612.92 123.74 614.00 125.40 C615.08 127.06 618.50 132.48 619.50 133.60 C620.50 134.72 623.30 136.56 624.00 136.60 C624.70 136.64 625.80 133.31 626.50 134.00 C627.20 134.69 630.15 141.30 631.00 143.50 C631.85 145.70 634.30 153.10 635.00 156.00 C635.70 158.90 637.40 169.40 638.00 172.50 C638.60 175.60 640.40 184.82 641.00 187.00 C641.60 189.18 643.50 194.40 644.00 194.30 C644.50 194.20 645.65 187.73 646.00 186.00 C646.35 184.27 646.92 179.50 647.50 177.00 C648.08 174.50 651.08 161.50 651.80 161.00 C652.52 160.50 654.11 169.34 654.70 172.00 C655.29 174.66 657.17 186.20 657.70 187.60 C658.23 189.00 659.62 185.56 660.00 186.00 C660.38 186.44 661.20 190.00 661.50 192.00 C661.80 194.00 662.75 202.00 663.00 206.00 C663.25 210.00 663.80 226.80 664.00 232.00 C664.20 237.20 664.75 254.75 665.00 258.00 C665.25 261.25 666.22 264.50 666.50 264.50 C666.78 264.50 667.55 261.25 667.80 258.00 C668.05 254.75 668.68 236.80 669.00 232.00 C669.32 227.20 670.58 214.20 671.00 210.00 C671.42 205.80 672.77 193.80 673.20 190.00 C673.63 186.20 674.92 175.50 675.30 172.00 C675.68 168.50 676.63 158.20 677.00 155.00 C677.37 151.80 678.59 142.72 679.00 140.00 C679.41 137.28 680.89 129.02 681.10 127.80" stroke="#e03434" stroke-width="2.4" fill="none" stroke-linejoin="round" stroke-linecap="butt"/>
<path d="M492.40 68.02 L494.22 68.14 L496.03 68.26 L497.85 68.38 L499.66 68.52 L501.48 68.65 L503.30 68.80 L505.11 68.95 L506.93 69.11 L508.75 69.27 L510.56 69.45 L512.38 69.63 L514.19 69.82 L516.01 70.02 L517.83 70.23 L519.64 70.44 L521.46 70.67 L523.28 70.91 L525.09 71.16 L526.91 71.43 L528.72 71.70 L530.54 71.99 L532.36 72.29 L534.17 72.61 L535.99 72.94 L537.80 73.29 L539.62 73.65 L541.44 74.03 L543.25 74.43 L545.07 74.84 L546.89 75.28 L548.70 75.74 L550.52 76.22 L552.33 76.72 L554.15 77.24 L555.97 77.79 L557.78 78.37 L559.60 78.97 L561.42 79.61 L563.23 80.27 L565.05 80.96 L566.86 81.69 L568.68 82.45 L570.50 83.24 L572.31 84.07 L574.13 84.95 L575.95 85.86 L577.76 86.82 L579.58 87.82 L581.39 88.87" stroke="#111" stroke-width="2.6" fill="none"/>
<path d="M507.6 186.2 H527.5" stroke="#2d4f9e" stroke-width="2.2" fill="none"/>
<path d="M507.6 197.0 H527.5" stroke="#3a4f7a" stroke-width="2.2" stroke-dasharray="3.2 4.8" fill="none"/>
<path d="M507.6 218.1 H527.5" stroke="#e03434" stroke-width="2.2" fill="none"/>
<path d="M507.6 228.5 H527.5" stroke="#d03c58" stroke-width="2.2" stroke-dasharray="3.2 4.8" fill="none"/>
<path d="M507.6 249.7 H527.5" stroke="#dcc070" stroke-width="2.2" fill="none"/>
<path d="M507.6 260.6 H527.5" stroke="#c8bc98" stroke-width="2.2" stroke-dasharray="3.2 4.8" fill="none"/>
<path d="M507.6 281.9 H527.5" stroke="#3a6a48" stroke-width="2.2" fill="none"/>
<path d="M507.6 292.7 H527.5" stroke="#4a6a58" stroke-width="2.2" stroke-dasharray="3.2 4.8" fill="none"/>
<text x="529.30" y="189.40" font-family="Liberation Serif" font-size="8.5" fill="#333333" textLength="8.20" lengthAdjust="spacingAndGlyphs" >水</text>
<text x="538.00" y="189.40" font-family="Liberation Serif" font-size="9" fill="#333333" >,</text>
<text x="546.20" y="189.40" font-family="Liberation Serif" font-size="9" fill="#333333" textLength="17.30" lengthAdjust="spacingAndGlyphs"><tspan font-style="italic">We</tspan>=7</text>
<text x="564.30" y="189.40" font-family="Liberation Serif" font-size="9" fill="#333333" >,</text>
<text x="574.00" y="189.40" font-family="Liberation Serif" font-size="9" fill="#333333" textLength="26.00" lengthAdjust="spacingAndGlyphs"><tspan font-style="italic">Re</tspan>=996</text>
<text x="529.30" y="200.20" font-family="Liberation Serif" font-size="8.5" fill="#333333" textLength="8.20" lengthAdjust="spacingAndGlyphs" >水</text>
<text x="538.00" y="200.20" font-family="Liberation Serif" font-size="9" fill="#333333" >,</text>
<text x="546.20" y="200.20" font-family="Liberation Serif" font-size="9" fill="#333333" textLength="26.50" lengthAdjust="spacingAndGlyphs"><tspan font-style="italic">We</tspan>=109</text>
<text x="573.50" y="200.20" font-family="Liberation Serif" font-size="9" fill="#333333" >,</text>
<text x="582.00" y="200.20" font-family="Liberation Serif" font-size="9" fill="#333333" textLength="32.30" lengthAdjust="spacingAndGlyphs"><tspan font-style="italic">Re</tspan>=3 984</text>
<text x="529.30" y="221.30" font-family="Liberation Serif" font-size="8.5" fill="#333333" textLength="33.00" lengthAdjust="spacingAndGlyphs" >镍基合金</text>
<text x="562.80" y="221.30" font-family="Liberation Serif" font-size="9" fill="#333333" >,</text>
<text x="571.50" y="221.30" font-family="Liberation Serif" font-size="9" fill="#333333" textLength="18.00" lengthAdjust="spacingAndGlyphs"><tspan font-style="italic">We</tspan>=6</text>
<text x="590.30" y="221.30" font-family="Liberation Serif" font-size="9" fill="#333333" >,</text>
<text x="598.70" y="221.30" font-family="Liberation Serif" font-size="9" fill="#333333" textLength="32.10" lengthAdjust="spacingAndGlyphs"><tspan font-style="italic">Re</tspan>=3 100</text>
<text x="529.30" y="231.70" font-family="Liberation Serif" font-size="8.5" fill="#333333" textLength="33.00" lengthAdjust="spacingAndGlyphs" >镍基合金</text>
<text x="562.80" y="231.70" font-family="Liberation Serif" font-size="9" fill="#333333" >,</text>
<text x="571.50" y="231.70" font-family="Liberation Serif" font-size="9" fill="#333333" textLength="22.00" lengthAdjust="spacingAndGlyphs"><tspan font-style="italic">We</tspan>=99</text>
<text x="594.30" y="231.70" font-family="Liberation Serif" font-size="9" fill="#333333" >,</text>
<text x="602.70" y="231.70" font-family="Liberation Serif" font-size="9" fill="#333333" textLength="36.80" lengthAdjust="spacingAndGlyphs"><tspan font-style="italic">Re</tspan>=12 400</text>
<text x="529.30" y="252.90" font-family="Liberation Serif" font-size="9" fill="#333333" textLength="14.80" lengthAdjust="spacingAndGlyphs" >85%</text>
<text x="544.10" y="252.90" font-family="Liberation Serif" font-size="8.5" fill="#333333" textLength="50.30" lengthAdjust="spacingAndGlyphs" >质量分数甘油</text>
<text x="594.90" y="252.90" font-family="Liberation Serif" font-size="9" fill="#333333" >,</text>
<text x="603.90" y="252.90" font-family="Liberation Serif" font-size="9" fill="#333333" textLength="23.50" lengthAdjust="spacingAndGlyphs"><tspan font-style="italic">We</tspan>=38</text>
<text x="628.20" y="252.90" font-family="Liberation Serif" font-size="9" fill="#333333" >,</text>
<text x="635.20" y="252.90" font-family="Liberation Serif" font-size="9" fill="#333333" textLength="21.70" lengthAdjust="spacingAndGlyphs"><tspan font-style="italic">Re</tspan>=25</text>
<text x="529.30" y="263.80" font-family="Liberation Serif" font-size="9" fill="#333333" textLength="14.80" lengthAdjust="spacingAndGlyphs" >85%</text>
<text x="544.10" y="263.80" font-family="Liberation Serif" font-size="8.5" fill="#333333" textLength="50.30" lengthAdjust="spacingAndGlyphs" >质量分数甘油</text>
<text x="594.90" y="263.80" font-family="Liberation Serif" font-size="9" fill="#333333" >,</text>
<text x="603.90" y="263.80" font-family="Liberation Serif" font-size="9" fill="#333333" textLength="26.90" lengthAdjust="spacingAndGlyphs"><tspan font-style="italic">We</tspan>=343</text>
<text x="631.60" y="263.80" font-family="Liberation Serif" font-size="9" fill="#333333" >,</text>
<text x="638.60" y="263.80" font-family="Liberation Serif" font-size="9" fill="#333333" textLength="21.70" lengthAdjust="spacingAndGlyphs"><tspan font-style="italic">Re</tspan>=74</text>
<text x="529.30" y="285.10" font-family="Liberation Serif" font-size="9" fill="#333333" textLength="36.50" lengthAdjust="spacingAndGlyphs" >PDMS 100</text>
<text x="565.80" y="285.10" font-family="Liberation Serif" font-size="8.5" fill="#333333" textLength="16.50" lengthAdjust="spacingAndGlyphs" >硅油</text>
<text x="582.80" y="285.10" font-family="Liberation Serif" font-size="9" fill="#333333" >,</text>
<text x="591.80" y="285.10" font-family="Liberation Serif" font-size="9" fill="#333333" textLength="22.50" lengthAdjust="spacingAndGlyphs"><tspan font-style="italic">We</tspan>=95</text>
<text x="615.10" y="285.10" font-family="Liberation Serif" font-size="9" fill="#333333" >,</text>
<text x="623.90" y="285.10" font-family="Liberation Serif" font-size="9" fill="#333333" textLength="20.80" lengthAdjust="spacingAndGlyphs"><tspan font-style="italic">Re</tspan>=19</text>
<text x="529.30" y="295.90" font-family="Liberation Serif" font-size="9" fill="#333333" textLength="36.50" lengthAdjust="spacingAndGlyphs" >PDMS 100</text>
<text x="565.80" y="295.90" font-family="Liberation Serif" font-size="8.5" fill="#333333" textLength="16.50" lengthAdjust="spacingAndGlyphs" >硅油</text>
<text x="582.80" y="295.90" font-family="Liberation Serif" font-size="9" fill="#333333" >,</text>
<text x="591.80" y="295.90" font-family="Liberation Serif" font-size="9" fill="#333333" textLength="26.90" lengthAdjust="spacingAndGlyphs"><tspan font-style="italic">We</tspan>=856</text>
<text x="619.50" y="295.90" font-family="Liberation Serif" font-size="9" fill="#333333" >,</text>
<text x="628.20" y="295.90" font-family="Liberation Serif" font-size="9" fill="#333333" textLength="21.70" lengthAdjust="spacingAndGlyphs"><tspan font-style="italic">Re</tspan>=58</text>
<text x="520.30" y="364.90" font-family="Liberation Serif" font-size="13.5" fill="#222" textLength="10.90" lengthAdjust="spacingAndGlyphs" font-weight="600" style="stroke-width:0">图</text>
<text x="537.70" y="365.00" font-family="Liberation Serif" font-size="13.5" fill="#222" textLength="5.90" lengthAdjust="spacingAndGlyphs" font-weight="bold">9</text>
<text x="561.80" y="364.90" font-family="Liberation Serif" font-size="13.5" fill="#222" textLength="12.40" lengthAdjust="spacingAndGlyphs" font-weight="600" style="stroke-width:0">流</text>
<text x="576.70" y="364.90" font-family="Liberation Serif" font-size="13.5" fill="#222" textLength="11.90" lengthAdjust="spacingAndGlyphs" font-weight="600" style="stroke-width:0">体</text>
<text x="592.00" y="364.90" font-family="Liberation Serif" font-size="13.5" fill="#222" textLength="12.40" lengthAdjust="spacingAndGlyphs" font-weight="600" style="stroke-width:0">性</text>
<text x="606.40" y="364.90" font-family="Liberation Serif" font-size="13.5" fill="#222" textLength="12.90" lengthAdjust="spacingAndGlyphs" font-weight="600" style="stroke-width:0">质</text>
<text x="621.80" y="364.90" font-family="Liberation Serif" font-size="13.5" fill="#222" textLength="11.10" lengthAdjust="spacingAndGlyphs" font-weight="600" style="stroke-width:0">对</text>
<text x="636.60" y="364.90" font-family="Liberation Serif" font-size="13.5" fill="#222" textLength="11.20" lengthAdjust="spacingAndGlyphs" font-weight="600" style="stroke-width:0">的</text>
<text x="673.80" y="364.90" font-family="Liberation Serif" font-size="13.5" fill="#222" textLength="11.90" lengthAdjust="spacingAndGlyphs" font-weight="600" style="stroke-width:0">影</text>
<text x="688.70" y="364.90" font-family="Liberation Serif" font-size="13.5" fill="#222" textLength="11.90" lengthAdjust="spacingAndGlyphs" font-weight="600" style="stroke-width:0">响</text>
<text x="654.50" y="365.00" font-family="Liberation Serif" font-size="12.5" fill="#222" textLength="6.70" lengthAdjust="spacingAndGlyphs" font-weight="bold" font-style="italic">h</text>
<text x="664.10" y="359.50" font-family="Liberation Serif" font-size="8" fill="#222" textLength="3.00" lengthAdjust="spacingAndGlyphs" font-weight="bold">*</text>
</svg></body></html>
